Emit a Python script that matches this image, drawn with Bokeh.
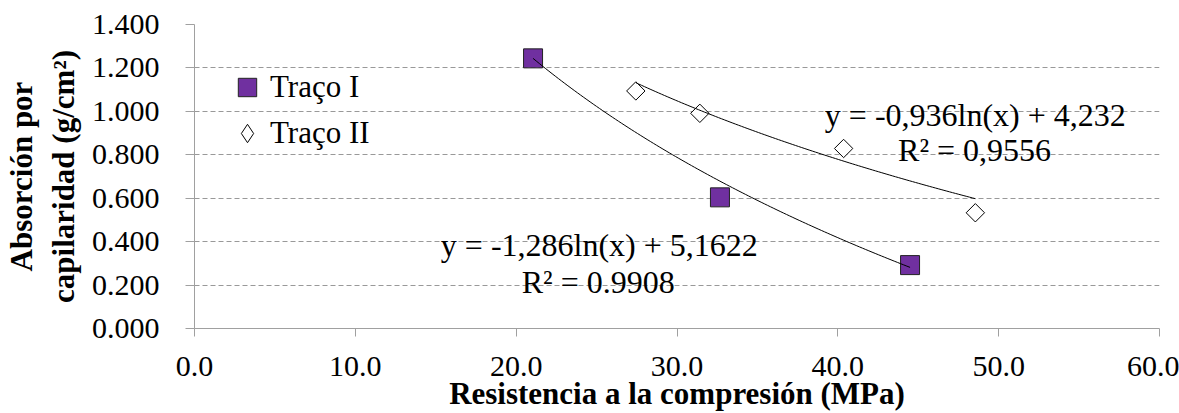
import numpy as np
from bokeh.plotting import figure
from bokeh.models import (Range1d, FixedTicker, NumeralTickFormatter, Legend, LegendItem,
                          Label)
from bokeh.embed import file_html
from bokeh.resources import INLINE

# ---- data ----
traco1_x = [21.05, 32.67, 44.49]
traco1_y = [1.244, 0.604, 0.292]
traco2_x = [27.44, 31.42, 40.36, 48.55]
traco2_y = [1.094, 0.991, 0.829, 0.533]
fit1 = (-1.286, 5.1622)   # y = a ln(x) + b
fit2 = (-0.936, 4.232)
eq1_text = ["y = -1,286ln(x) + 5,1622", "R² = 0.9908"]
eq2_text = ["y = -0,936ln(x) + 4,232", "R² = 0,9556"]
x_ticks = [0, 10, 20, 30, 40, 50, 60]
y_ticks = [0.0, 0.2, 0.4, 0.6, 0.8, 1.0, 1.2, 1.4]
series_names = ["Traço I", "Traço II"]
x_title = "Resistencia a la compresión (MPa)"
y_title = "Absorción por\ncapilaridad (g/cm²)"

FONT = "Liberation Serif"
GRAY = "#a0a0a0"

p = figure(width=1179, height=413, output_backend="svg", toolbar_location=None,
           x_range=Range1d(0, 60), y_range=Range1d(0, 1.4),
           min_border_left=189, min_border_right=20, min_border_top=24, min_border_bottom=85)
p.outline_line_color = None
p.background_fill_color = "white"
p.border_fill_color = "white"

# grid
p.xgrid.visible = False
p.ygrid.ticker = FixedTicker(ticks=y_ticks)
p.ygrid.grid_line_color = "#999999"
p.ygrid.grid_line_dash = "5 3"
p.ygrid.grid_line_width = 1

# axes
p.xaxis.ticker = FixedTicker(ticks=x_ticks)
p.yaxis.ticker = FixedTicker(ticks=y_ticks)
p.xaxis.formatter = NumeralTickFormatter(format="0.0")
p.yaxis.formatter = NumeralTickFormatter(format="0.000")
for ax in (p.xaxis, p.yaxis):
    ax.axis_line_color = GRAY
    ax.major_tick_line_color = GRAY
    ax.minor_tick_line_color = None
    ax.major_tick_in = 0
    ax.major_label_text_font = FONT
    ax.major_label_text_font_size = "30px"
    ax.major_label_text_color = "black"
    ax.axis_label_text_font = FONT
    ax.axis_label_text_font_style = "bold"
    ax.axis_label_text_font_size = "31px"
    ax.axis_label_text_color = "black"
p.xaxis.major_tick_out = 8
p.yaxis.major_tick_out = 9
p.xaxis.major_label_standoff = 20
p.yaxis.major_label_standoff = 26
p.xaxis.axis_label = x_title
p.yaxis.axis_label = y_title
p.xaxis.axis_label_standoff = -3
p.yaxis.axis_label_standoff = 8

# markers
r1 = p.scatter(traco1_x, traco1_y, marker="square", size=19,
               fill_color="#7030A0", line_color="#222222", line_width=1)
r2 = p.scatter(traco2_x, traco2_y, marker="square", size=13, angle=np.pi / 4,
               fill_color="white", line_color="black", line_width=1)
# legend proxy for the diamond symbol (legend glyphs ignore marker angle); not drawn in plot
r2_leg = p.scatter(x=np.array([np.nan]), y=np.array([np.nan]), marker="diamond",
                   fill_color="white", line_color="black", line_width=1)

# trendlines
for xs, (a, b) in ((traco1_x, fit1), (traco2_x, fit2)):
    xx = np.linspace(min(xs), max(xs), 120)
    p.line(xx, a * np.log(xx) + b, line_color="black", line_width=1)

# equations
def add_label(x, y, t):
    p.add_layout(Label(x=x, y=y, text=t, text_font=FONT, text_font_size="32px",
                       text_align="center", text_baseline="middle", text_color="black"))

add_label(25.17, 0.384, eq1_text[0])
add_label(25.10, 0.213, eq1_text[1])
add_label(48.55, 0.982, eq2_text[0])
add_label(48.50, 0.821, eq2_text[1])

# legend
legend = Legend(items=[LegendItem(label=series_names[0], renderers=[r1]),
                       LegendItem(label=series_names[1], renderers=[r2_leg])],
                location=(30, 172), glyph_width=46, glyph_height=46, label_standoff=-8,
                spacing=-3, padding=0, margin=0, border_line_color=None,
                background_fill_alpha=0,
                label_text_font=FONT, label_text_font_size="31px", label_height=43,
                label_text_color="black")
p.add_layout(legend)

open("out.html", "w").write(file_html(p, INLINE))
